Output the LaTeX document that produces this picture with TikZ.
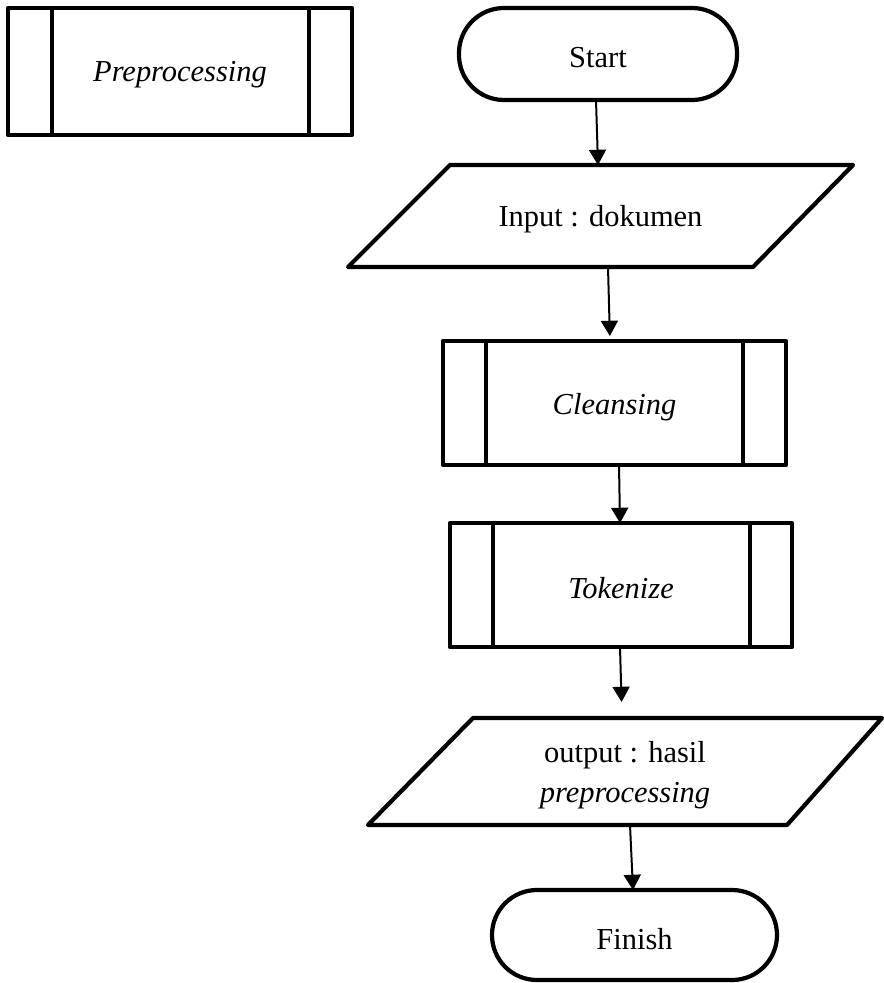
\documentclass[tikz,border=0pt]{standalone}
\usepackage{fontspec}
\setmainfont{Liberation Serif}
\usetikzlibrary{arrows.meta}
\newcommand\pp{0.8536pt}
\begin{document}
\begin{tikzpicture}[x=0.03cm,y=-0.03cm,
  every node/.style={outer sep=0pt, inner sep=0pt},
  caption/.style={font=\fontsize{26}{34}\selectfont, align=center},
  shapeline/.style={line width=3.6pt, line join=round},
  terminal/.style={shapeline, draw, rectangle, rounded corners=45*\pp},
  procbox/.style={shapeline, draw, rectangle},
  iobox/.style={rectangle},
  flow/.style={line width=1.7pt, -{Triangle[length=13pt,width=14.5pt]}}
]
\useasboundingbox (0,0) rectangle (883,983);

% predefined-process legend
\node[procbox, minimum width=344*\pp, minimum height=127*\pp] (prep) at (180,71.5) {};
\draw[shapeline] ([xshift=44*\pp]prep.north west) -- ([xshift=44*\pp]prep.south west);
\draw[shapeline] ([xshift=-43*\pp]prep.north east) -- ([xshift=-43*\pp]prep.south east);
\node[caption] (preptext) at ([yshift=-3*\pp]prep.center) {\itshape Preprocessing};

% start terminal
\node[terminal, minimum width=278*\pp, minimum height=92*\pp] (start) at (598,54) {};
\node[caption] (starttext) at ([yshift=-4*\pp]start.center) {Start};

% input parallelogram
\node[iobox, minimum width=505*\pp, minimum height=102*\pp] (input) at (600.5,216) {};
\draw[shapeline] ([xshift=102*\pp]input.north west) -- (input.north east)
  -- ([xshift=-100*\pp]input.south east) -- (input.south west) -- cycle;
\node[caption] (inputtext) at ([yshift=-3*\pp]input.center) {Input : dokumen};

% cleansing process
\node[procbox, minimum width=343*\pp, minimum height=124*\pp] (clean) at (614.5,403) {};
\draw[shapeline] ([xshift=43*\pp]clean.north west) -- ([xshift=43*\pp]clean.south west);
\draw[shapeline] ([xshift=-43*\pp]clean.north east) -- ([xshift=-43*\pp]clean.south east);
\node[caption] (cleantext) at ([yshift=-4*\pp]clean.center) {\itshape Cleansing};

% tokenize process
\node[procbox, minimum width=342*\pp, minimum height=124*\pp] (token) at (621,585) {};
\draw[shapeline] ([xshift=43*\pp]token.north west) -- ([xshift=43*\pp]token.south west);
\draw[shapeline] ([xshift=-42*\pp]token.north east) -- ([xshift=-42*\pp]token.south east);
\node[caption] (tokentext) at ([yshift=-3*\pp]token.center) {\itshape Tokenize};

% output parallelogram
\node[iobox, minimum width=514*\pp, minimum height=107*\pp] (output) at (625,771.5) {};
\draw[shapeline] ([xshift=105*\pp]output.north west) -- (output.north east)
  -- ([xshift=-95*\pp]output.south east) -- (output.south west) -- cycle;
\node[caption] (outputtext) at ([yshift=-4*\pp]output.center) {output : hasil\\\itshape preprocessing};

% finish terminal
\node[terminal, minimum width=285*\pp, minimum height=90*\pp] (finish) at (634.5,935) {};
\node[caption] (finishtext) at ([yshift=-4*\pp]finish.center) {Finish};

% connectors
\draw[flow] ([xshift=-2*\pp]start.south) -- ([xshift=-2.5*\pp]input.north);
\draw[flow, shorten >=5*\pp] ([xshift=7.5*\pp]input.south) -- ([xshift=-4.5*\pp]clean.north);
\draw[flow] ([xshift=4.5*\pp]clean.south) -- ([xshift=-1*\pp]token.north);
\draw[flow, shorten >=16*\pp] ([xshift=-1*\pp]token.south) -- ([xshift=-3*\pp]output.north);
\draw[flow] ([xshift=5*\pp]output.south) -- ([xshift=-1.5*\pp]finish.north);
\end{tikzpicture}
\end{document}
